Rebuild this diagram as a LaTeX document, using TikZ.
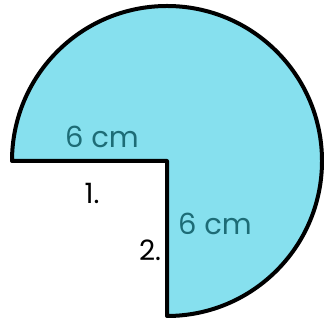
\documentclass[tikz,border=0pt]{standalone}
\usepackage{fontspec}
\setmainfont{Poppins}
\definecolor{piefill}{HTML}{86E0EE}
\definecolor{cmtext}{HTML}{1D6C76}

\begin{document}
\begin{tikzpicture}[x=1pt, y=1pt, line join=round]
  % picture frame 323 x 323
  \useasboundingbox (0, 0) rectangle (323, 323);
  % centre O, radius 155
  \coordinate (O) at (167, 162);
  \coordinate (L) at (12, 162);
  \coordinate (D) at (167, 7);

  \filldraw[fill=piefill, draw=black, line width=4pt]
    (O) -- (L) arc[start angle=180, end angle=-90, radius=155] -- cycle;

  \node[text=cmtext, font=\fontsize{29}{29}\selectfont] (top) at (102, 186) {6 cm};
  \node[text=cmtext, font=\fontsize{29}{29}\selectfont] (right) at (215, 99) {6 cm};
  \node[font=\fontsize{28}{28}\selectfont] (one) at (92, 130) {1.};
  \node[font=\fontsize{28}{28}\selectfont] (two) at (150, 73) {2.};
\end{tikzpicture}
\end{document}
